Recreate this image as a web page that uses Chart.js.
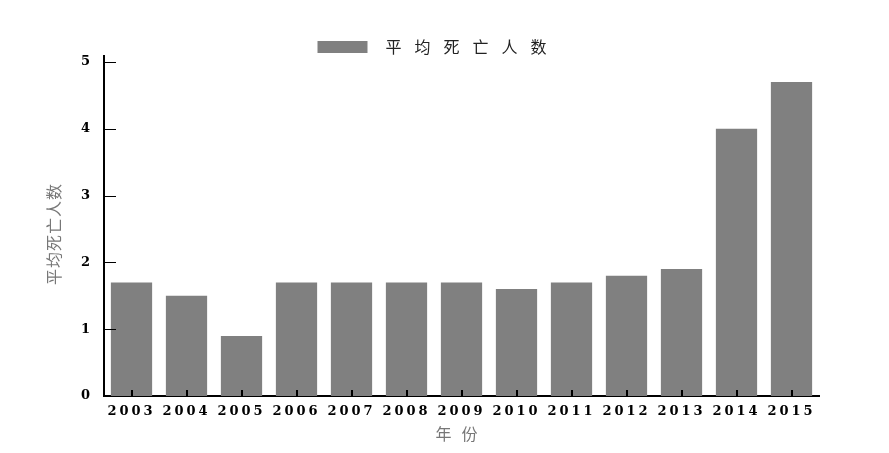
<!DOCTYPE html>
<html><head><meta charset="utf-8">
<script src="https://cdn.jsdelivr.net/npm/chart.js@4/dist/chart.umd.min.js"></script>
<style>html,body{margin:0;padding:0;background:#fff}#wrap{width:889px;height:453px;position:relative}</style>
</head><body><div id="wrap"><canvas id="c"></canvas></div>
<script>
const years = ['2003','2004','2005','2006','2007','2008','2009','2010','2011','2012','2013','2014','2015'];
const avgDeaths = [1.7, 1.5, 0.9, 1.7, 1.7, 1.7, 1.7, 1.6, 1.7, 1.8, 1.9, 4.0, 4.7];
const yTickValues = [0, 1, 2, 3, 4, 5];
const seriesName = '平均死亡人数';
const xTitle = '年份';
const yTitle = '平均死亡人数';

function wrapDraw(obj, method, opts) {
  const orig = obj[method];
  obj[method] = function(...args) {
    const ctx = this.ctx;
    ctx.save();
    if (opts.spacing != null) ctx.letterSpacing = opts.spacing + 'px';
    if (opts.dx || opts.dy) ctx.translate(opts.dx || 0, opts.dy || 0);
    let patched = false;
    if (opts.textDx) {
      const of = ctx.fillText;
      ctx.fillText = function(t, x, y, m) { return m === undefined ? of.call(this, t, x + opts.textDx, y) : of.call(this, t, x + opts.textDx, y, m); };
      patched = true;
    }
    const r = orig.apply(this, args);
    if (patched) delete ctx.fillText;
    ctx.restore();
    return r;
  };
}

const spacingPlugin = {
  id: 'spacing',
  afterInit(chart) {
    const lg = chart.legend;
    if (lg && !lg.__wrapped) {
      lg.__wrapped = true;
      wrapDraw(lg, 'fit', {spacing: 13});
      wrapDraw(lg, 'draw', {spacing: 13, dx: 24, dy: 9, textDx: 10});
    }
  },
  beforeLayout(chart) {
    const x = chart.scales.x, y = chart.scales.y;
    if (x && !x.__wrapped) {
      x.__wrapped = true;
      wrapDraw(x, 'drawLabels', {spacing: 3});
      wrapDraw(x, 'drawTitle', {spacing: 10});
    }
    if (y && !y.__wrapped) {
      y.__wrapped = true;
      wrapDraw(y, 'drawTitle', {spacing: 1, dy: 8});
    }
  }
};

const inTicksPlugin = {
  id: 'inTicks',
  afterDatasetsDraw(chart) {
    const {ctx, scales: {x, y}, chartArea: a} = chart;
    ctx.save();
    ctx.strokeStyle = '#000';
    ctx.lineWidth = 1;
    yTickValues.forEach(v => {
      if (v === 0) return;
      const py = Math.round(y.getPixelForValue(v)) + 0.5;
      ctx.beginPath(); ctx.moveTo(a.left, py); ctx.lineTo(a.left + 12, py); ctx.stroke();
    });
    ctx.lineWidth = 2;
    years.forEach((_, i) => {
      const px = Math.round(x.getPixelForTick(i));
      ctx.beginPath(); ctx.moveTo(px, a.bottom); ctx.lineTo(px, a.bottom - 6); ctx.stroke();
    });
    ctx.restore();
  }
};

new Chart(document.getElementById('c'), {
  type: 'bar',
  data: {
    labels: years,
    datasets: [{
      label: seriesName,
      data: avgDeaths,
      backgroundColor: '#808080',
      borderWidth: 0,
      barPercentage: 0.75,
      categoryPercentage: 1.0
    }]
  },
  options: {
    responsive: true,
    maintainAspectRatio: false,
    animation: false,
    devicePixelRatio: 1,
    layout: {padding: {top: 20, right: 70, bottom: 0, left: 0}},
    plugins: {
      legend: {
        display: true,
        position: 'top',
        labels: {
          boxWidth: 50,
          boxHeight: 12,
          padding: 10,
          color: '#222',
          font: {family: '"Noto Sans CJK SC", sans-serif', size: 16}
        }
      },
      tooltip: {enabled: false}
    },
    scales: {
      x: {
        offset: true,
        grid: {display: false, drawTicks: false},
        border: {display: true, color: '#000', width: 2},
        ticks: {
          color: '#000',
          maxRotation: 0, autoSkip: false,
          padding: 8,
          font: {family: '"DejaVu Serif", serif', size: 13, weight: 'bold'}
        },
        title: {
          display: true, text: xTitle, color: '#777',
          font: {family: '"Noto Sans CJK SC", sans-serif', size: 16},
          padding: {top: 0, bottom: 9}
        },
        afterFit(s) { s.height = 57; }
      },
      y: {
        min: 0, max: 5.09,
        grid: {display: false, drawTicks: false},
        border: {display: true, color: '#000', width: 2},
        afterBuildTicks(s) { s.ticks = yTickValues.map(v => ({value: v})); },
        ticks: {
          color: '#000',
          padding: 14,
          font: {family: '"DejaVu Serif", serif', size: 13, weight: 'bold'}
        },
        title: {
          display: true, text: yTitle, color: '#777',
          font: {family: '"Noto Sans CJK SC", sans-serif', size: 16},
          padding: {top: 44, bottom: 0}
        },
        afterFit(s) { s.width = 104; }
      }
    }
  },
  plugins: [spacingPlugin, inTicksPlugin]
});
</script>
</body></html>
